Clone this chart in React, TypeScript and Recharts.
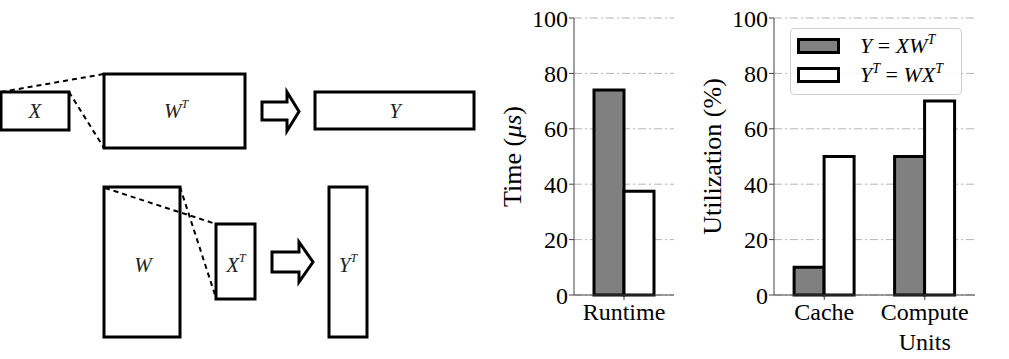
import React from 'react';
import {
  BarChart,
  Bar,
  XAxis,
  YAxis,
  CartesianGrid,
  Label,
} from 'recharts';

// runtime panel
const runtimeCategories = ['Runtime'];
const runtimeXW = [74];
const runtimeWX = [37.5];

// utilization panel
const utilCategories = ['Cache', 'Compute\nUnits'];
const utilXW = [10, 50];
const utilWX = [50, 70];

const yTicks = [0, 20, 40, 60, 80, 100];

const SERIF = "'Liberation Serif', 'Times New Roman', 'DejaVu Serif', serif";
const FRAME = '#444';
const GRAY_FILL = '#808080';

const runtimeData = runtimeCategories.map((c, i) => ({
  name: c,
  xw: runtimeXW[i],
  wx: runtimeWX[i],
}));

const utilData = utilCategories.map((c, i) => ({
  name: c,
  xw: utilXW[i],
  wx: utilWX[i],
}));

function CategoryTick(props: any) {
  const { x, y, payload } = props;
  const lines = String(payload.value).split('\n');
  return (
    <text x={x} y={y} textAnchor="middle" fontFamily={SERIF} fontSize={24} fill="#000">
      {lines.map((l, i) => (
        <tspan key={i} x={x} dy={i === 0 ? 20 : 30}>
          {l}
        </tspan>
      ))}
    </text>
  );
}

function axisTitle(title: React.ReactNode) {
  return (props: any) => {
    const vb = props.viewBox || {};
    const cx = (vb.x ?? 0) + 22;
    const cy = (vb.y ?? 0) + (vb.height ?? 0) / 2;
    return (
      <text
        transform={`translate(${cx},${cy}) rotate(-90)`}
        textAnchor="middle"
        dominantBaseline="central"
        fontFamily={SERIF}
        fontSize={26}
        fill="#000"
      >
        {title}
      </text>
    );
  };
}

function Panel({
  data,
  width,
  yLabel,
}: {
  data: any[];
  width: number;
  yLabel: React.ReactNode;
}) {
  return (
    <BarChart
      width={width}
      height={359}
      data={data}
      margin={{ top: 18, right: 5, bottom: 0, left: 0 }}
      barGap={0}
      barCategoryGap="20%"
    >
      <CartesianGrid
        vertical={false}
        stroke="#b5b5b5"
        strokeDasharray="8 3 2 3"
      />
      <XAxis
        dataKey="name"
        height={64}
        interval={0}
        tick={<CategoryTick />}
        tickSize={5}
        tickMargin={0}
        axisLine={{ stroke: FRAME }}
        tickLine={{ stroke: FRAME }}
      />
      <XAxis
        xAxisId="top"
        dataKey="name"
        orientation="top"
        height={0}
        tick={false}
        tickLine={false}
        axisLine={{ stroke: FRAME }}
      />
      <YAxis
        width={84}
        domain={[0, 100]}
        ticks={yTicks}
        interval={0}
        tickSize={5}
        tickMargin={1}
        tick={{ fill: '#000', fontSize: 24, fontFamily: SERIF }}
        axisLine={{ stroke: FRAME }}
        tickLine={{ stroke: FRAME }}
      >
        <Label content={axisTitle(yLabel)} />
      </YAxis>
      <YAxis
        yAxisId="right"
        orientation="right"
        width={0}
        domain={[0, 100]}
        tick={false}
        tickLine={false}
        axisLine={{ stroke: FRAME }}
      />
      <Bar dataKey="xw" fill={GRAY_FILL} stroke="#000" strokeWidth={3} isAnimationActive={false} />
      <Bar dataKey="wx" fill="#fff" stroke="#000" strokeWidth={3} isAnimationActive={false} />
    </BarChart>
  );
}

function Sup({ children }: { children: React.ReactNode }) {
  return (
    <sup style={{ fontSize: 14, verticalAlign: 0, position: 'relative', top: -9 }}>{children}</sup>
  );
}

function LegendRow({ fill, children }: { fill: string; children: React.ReactNode }) {
  return (
    <div style={{ display: 'flex', alignItems: 'center', height: 29 }}>
      <div
        style={{
          width: 37,
          height: 10,
          border: '3px solid #000',
          background: fill,
          marginLeft: 6,
          marginRight: 20,
        }}
      />
      <span style={{ fontFamily: SERIF, fontSize: 22, fontStyle: 'italic', whiteSpace: 'nowrap' }}>
        {children}
      </span>
    </div>
  );
}

function Diagram() {
  const sw = 3;
  const txt = { fontFamily: SERIF, fontSize: 21, fontStyle: 'italic' as const, fill: '#222' };
  const sup = { fontSize: 12 };
  return (
    <svg width={490} height={359} style={{ position: 'absolute', left: 0, top: 0 }}>
      <g fill="#fff" stroke="#000" strokeWidth={sw}>
        <rect x={1} y={92} width={68} height={38} />
        <rect x={104} y={74} width={141} height={74} />
        <rect x={315} y={92} width={159} height={37} />
        <rect x={104} y={187} width={76} height={150} />
        <rect x={216} y={224} width={39} height={75} />
        <rect x={329} y={187} width={38} height={150} />
        <polygon points="262,102 287,102 287,92 299,111.5 287,131 287,120 262,120" strokeLinejoin="miter" />
        <polygon points="272,252 299,252 299,242 313,262 299,282 299,272 272,272" strokeLinejoin="miter" />
      </g>
      <g stroke="#000" strokeWidth={2} strokeDasharray="5 4">
        <line x1={1} y1={92} x2={104} y2={74} />
        <line x1={69} y1={92} x2={104} y2={148} />
        <line x1={105} y1={188} x2={216} y2={224} />
        <line x1={180} y1={187} x2={216} y2={298} />
      </g>
      <g {...txt} textAnchor="middle" dominantBaseline="central">
        <text x={35} y={111}>X</text>
        <text x={176} y={111}>
          W<tspan {...sup} dy={-7}>T</tspan>
        </text>
        <text x={395} y={111}>Y</text>
        <text x={143} y={265}>W</text>
        <text x={236} y={265}>
          X<tspan {...sup} dy={-7}>T</tspan>
        </text>
        <text x={348} y={265}>
          Y<tspan {...sup} dy={-7}>T</tspan>
        </text>
      </g>
    </svg>
  );
}

export default function App() {
  return (
    <div
      style={{
        position: 'absolute',
        left: 0,
        top: 0,
        width: 1009,
        height: 359,
        background: '#fff',
        overflow: 'hidden',
      }}
    >
      <Diagram />
      <div style={{ position: 'absolute', left: 490, top: 0 }}>
        <Panel
          data={runtimeData}
          width={189}
          yLabel={
            <>
              Time (<tspan fontStyle="italic">μs</tspan>)
            </>
          }
        />
      </div>
      <div style={{ position: 'absolute', left: 690, top: 0 }}>
        <Panel data={utilData} width={290} yLabel="Utilization (%)" />
        <div
          style={{
            position: 'absolute',
            left: 100,
            top: 28,
            width: 170,
            height: 63,
            border: '1px solid #d0d0d0',
            borderRadius: 4,
            background: 'rgba(255,255,255,0.85)',
            paddingTop: 2,
            boxSizing: 'content-box',
          }}
        >
          <LegendRow fill={GRAY_FILL}>
            Y<span style={{ fontStyle: 'normal' }}> = </span>XW<Sup>T</Sup>
          </LegendRow>
          <LegendRow fill="#fff">
            Y<Sup>T</Sup>
            <span style={{ fontStyle: 'normal' }}> = </span>WX<Sup>T</Sup>
          </LegendRow>
        </div>
      </div>
    </div>
  );
}
